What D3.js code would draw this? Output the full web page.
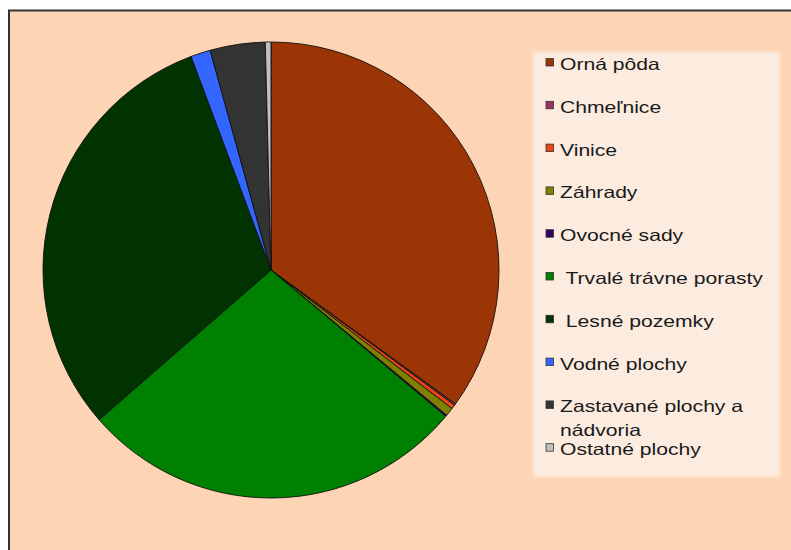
<!DOCTYPE html>
<html>
<head>
<meta charset="utf-8">
<script src="https://cdn.jsdelivr.net/npm/d3@7"></script>
<style>
  body { margin: 0; background: #fff; }
  svg { display: block; }
</style>
</head>
<body>
<svg id="chart"></svg>
<script>
// data
var categories = ["Orná pôda", "Chmeľnice", "Vinice", "Záhrady", "Ovocné sady",
  " Trvalé trávne porasty", " Lesné pozemky", "Vodné plochy",
  "Zastavané plochy a nádvoria", "Ostatné plochy"];
var shares = [35.0, 0.1, 0.3, 0.6, 0.1, 27.5, 30.7, 1.4, 3.9, 0.4];
var colors = ["#9c3505", "#993366", "#ee4411", "#808000", "#330066",
  "#008000", "#003300", "#3366ff", "#333333", "#c0c0c0"];

var width = 791, height = 550;
var cx = 271, cy = 270, radius = 228;

var svg = d3.select("#chart")
  .attr("width", width)
  .attr("height", height);

// soft edge of the legend box
var defs = svg.append("defs");
defs.append("filter").attr("id", "soft")
  .attr("x", "-5%").attr("y", "-5%").attr("width", "110%").attr("height", "110%")
  .append("feGaussianBlur").attr("stdDeviation", 1.5);

// frame
svg.append("rect")
  .attr("x", 9).attr("y", 10.5)
  .attr("width", 800).attr("height", 560)
  .attr("fill", "#fdd5b4")
  .attr("stroke", "#333")
  .attr("stroke-width", 2);

// pie
var pie = d3.pie().value(function(d) { return d; }).sort(null);
var arc = d3.arc().innerRadius(0).outerRadius(radius);

var g = svg.append("g")
  .attr("transform", "translate(" + cx + "," + cy + ")");

g.selectAll("path")
  .data(pie(shares))
  .enter().append("path")
  .attr("d", arc)
  .attr("fill", function(d, i) { return colors[i]; })
  .attr("stroke", "#111")
  .attr("stroke-width", 0.9);

// legend
svg.append("rect")
  .attr("x", 533).attr("y", 52)
  .attr("width", 247).attr("height", 425)
  .attr("fill", "#fcebdf")
  .attr("filter", "url(#soft)");

var y = d3.scaleLinear().domain([0, categories.length - 1]).range([70, 455.2]);

var item = svg.selectAll(".item")
  .data(categories)
  .enter().append("g")
  .attr("class", "item");

item.append("rect")
  .attr("x", 546)
  .attr("y", function(d, i) { return y(i) - 11.5; })
  .attr("width", 7.5).attr("height", 7.5)
  .attr("fill", function(d, i) { return colors[i]; })
  .attr("stroke", "#333")
  .attr("stroke-width", 0.8);

item.append("text")
  .attr("transform", function(d, i) { return "translate(560," + y(i) + ") scale(1.28,1)"; })
  .style("font-family", "Liberation Sans, Arial, sans-serif")
  .style("font-size", "16.5px")
  .style("white-space", "pre")
  .attr("fill", "#1a1a1a")
  .each(function(d) {
    var t = d3.select(this);
    var lines = d === "Zastavané plochy a nádvoria" ? ["Zastavané plochy a", "nádvoria"] : [d];
    lines.forEach(function(l, k) {
      t.append("tspan").attr("x", 0).attr("y", k * 24).text(l);
    });
  });
</script>
</body>
</html>
